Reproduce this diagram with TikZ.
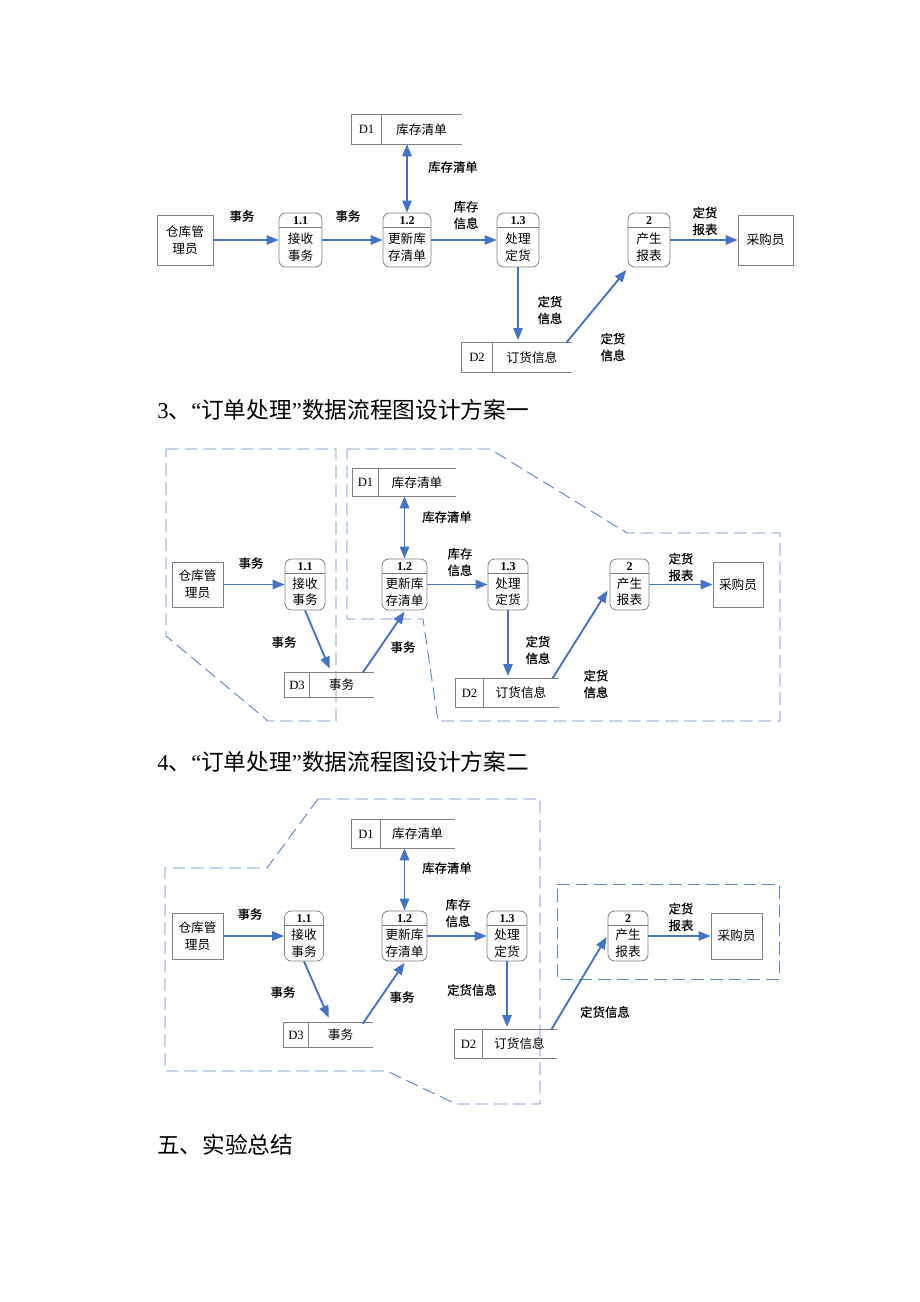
\documentclass[tikz,border=0pt]{standalone}
\usepackage{fontspec}
\setmainfont{Liberation Serif}
\newfontfamily\cjk{Noto Sans CJK SC}
\newfontfamily\cjkb{Noto Sans CJK SC}[FakeBold=0.4]
\usetikzlibrary{arrows.meta,calc}
\definecolor{ablue}{HTML}{4472C4}
\definecolor{dblue}{HTML}{5B86CF}
\definecolor{bgray}{HTML}{808080}
\tikzset{
  arr/.style={draw=ablue, line width=1.4pt, -{Triangle[length=9pt,width=7pt]}},
  darr/.style={draw=ablue, line width=1.4pt, {Triangle[length=9pt,width=7pt]}-{Triangle[length=9pt,width=7pt]}},
  bline/.style={draw=bgray, line width=0.6pt},
  pbox/.style={draw=bgray, line width=0.6pt, rounded corners=5pt, inner sep=0pt},
  ebox/.style={draw=bgray, line width=0.6pt, inner sep=0pt, align=center, font=\cjk\fontsize{9.5}{12.5}\selectfont},
  ntxt/.style={inner sep=0pt, align=center, font=\cjk\fontsize{9.5}{12.5}\selectfont},
  numtxt/.style={inner sep=0pt, font=\bfseries\fontsize{9}{10}\selectfont},
  idtxt/.style={inner sep=0pt, font=\fontsize{9.5}{10}\selectfont},
  lab/.style={inner sep=0pt, align=center, font=\cjkb\fontsize{9.3}{12.5}\selectfont},
  dline/.style={draw=dblue, line width=0.7pt, dash pattern=on 9.5pt off 4.5pt},
  head/.style={inner sep=0pt, anchor=west, font=\fontsize{17}{19}\selectfont}
}
\newcommand\proc[7]{%
  \node[pbox, minimum width={#4*0.75pt}, minimum height={#5*0.75pt}] (#1) at (#2,#3) {};
  \draw[bline] ([yshift=-11pt]#1.north west) -- ([yshift=-11pt]#1.north east);
  \node[numtxt] (#1n) at ([yshift=-5.7pt]#1.north) {#6};
  \node[ntxt] (#1t) at ($(#1.south)!0.5!([yshift=-11pt]#1.north)$) {#7};
}
\newcommand\store[8]{%
  \node[inner sep=0pt, minimum width={(#4-#2)*0.75pt}, minimum height={(#5-#3)*0.75pt}] (#1) at ({(#2+#4)/2},{(#3+#5)/2}) {};
  \draw[bline] (#1.north east) -- (#1.north west) -- (#1.south west) -- (#1.south east);
  \draw[bline] (#6,#3) -- (#6,#5);
  \node[idtxt] (#1i) at ({(#2+#6)/2},{(#3+#5)/2}) {#7};
  \node[ntxt] (#1t) at ({(#6+#4)/2},{(#3+#5)/2}) {#8};
}
\begin{document}
\begin{tikzpicture}[x=0.75pt,y=-0.75pt]
\useasboundingbox[fill=white] (0,0) rectangle (920,1302);

% ---------------- Diagram 1 ----------------
\node[ebox, minimum width={56*0.75pt}, minimum height={50*0.75pt}] (a1) at (185,240) {仓库管\\理员};
\proc{p11}{300.5}{240}{43}{54}{1.1}{接收\\事务}
\proc{p12}{407}{240}{48}{54}{1.2}{更新库\\存清单}
\proc{p13}{518}{240}{42}{54}{1.3}{处理\\定货}
\proc{p14}{649}{240}{42}{54}{2}{产生\\报表}
\node[ebox, minimum width={55*0.75pt}, minimum height={50*0.75pt}] (b1) at (765.5,240) {采购员};
\store{d11}{352}{115}{462}{144}{381}{D1}{库存清单}
\store{d12}{462}{343}{572}{372}{492}{D2}{订货信息}

\draw[arr] (a1.east) -- (p11.west);
\draw[arr] (p11.east) -- (p12.west);
\draw[arr] (p12.east) -- (p13.west);
\draw[arr] (p14.east) -- (b1.west);
\draw[darr] (p12.north |- d11.south) -- (p12.north);
\draw[arr, shorten >=2pt] (p13.south) -- (p13.south |- d12.north);
\draw[arr] ([xshift=-4.5pt]d12.north east) -- ([xshift=-1pt,yshift=-2pt]p14.south west);

\node[lab] (l11) at (242,216) {事务};
\node[lab] (l12) at (348,216) {事务};
\node[lab] (l13) at (466,215) {库存\\信息};
\node[lab] (l14) at (453,167) {库存清单};
\node[lab] (l15) at (705,221) {定货\\报表};
\node[lab] (l16) at (550,310) {定货\\信息};
\node[lab] (l17) at (613,347) {定货\\信息};

\node[head] (h1) at (157,410) {3{\cjk 、}“{\cjk 订单处理}”{\cjk 数据流程图设计方案一}};

% ---------------- Diagram 2 ----------------
\draw[dline] (166,449) -- (336,449) -- (336,721) -- (268,721) -- (166,636) -- cycle;
\draw[dline] (347,449) -- (490,449) -- (627,533) -- (780,533) -- (780,721) -- (438,721) -- (423,619) -- (347,619) -- cycle;

\node[ebox, minimum width={51*0.75pt}, minimum height={45*0.75pt}] (a2) at (197.5,584.5) {仓库管\\理员};
\proc{p21}{305}{584.5}{40}{51}{1.1}{接收\\事务}
\proc{p22}{404.5}{584.5}{45}{51}{1.2}{更新库\\存清单}
\proc{p23}{508}{584.5}{40}{51}{1.3}{处理\\定货}
\proc{p24}{629.5}{584.5}{39}{51}{2}{产生\\报表}
\node[ebox, minimum width={50*0.75pt}, minimum height={45*0.75pt}] (b2) at (738,584.5) {采购员};
\store{d21}{353}{469}{456}{496}{378}{D1}{库存清单}
\store{d23}{285}{673}{374}{697}{309}{D3}{事务}
\store{d22}{456}{679}{559}{707}{483}{D2}{订货信息}

\draw[arr] (a2.east) -- (p21.west);
\draw[arr] (p22.east) -- (p23.west);
\draw[arr] (p24.east) -- (b2.west);
\draw[darr] (p22.north |- d21.south) -- (p22.north);
\draw[arr] (p21.south) -- ($(d23.north west)+(45,-4)$);
\draw[arr] ($(d23.north west)+(78,0)$) -- ([yshift=-1pt]p22.south);
\draw[arr, shorten >=2pt] (p23.south) -- (p23.south |- d22.north);
\draw[arr] ($(d22.north east)+(-7,0)$) -- ($(p24.west)+(-2,6)$);

\node[lab] (l21) at (251,563) {事务};
\node[lab] (l22) at (284,642) {事务};
\node[lab] (l23) at (403,647) {事务};
\node[lab] (l24) at (447,517) {库存清单};
\node[lab] (l25) at (460,562) {库存\\信息};
\node[lab] (l26) at (538,650) {定货\\信息};
\node[lab] (l27) at (596,684) {定货\\信息};
\node[lab] (l28) at (681,567) {定货\\报表};

\node[head] (h2) at (157,762) {4{\cjk 、}“{\cjk 订单处理}”{\cjk 数据流程图设计方案二}};

% ---------------- Diagram 3 ----------------
\draw[dline] (318,799) -- (540,799) -- (540,1104) -- (456,1104) -- (387,1071) -- (165,1071) -- (165,868) -- (267,868) -- cycle;
\draw[dline] (557,884) -- (779,884) -- (779,979) -- (557,979) -- cycle;

\node[ebox, minimum width={51*0.75pt}, minimum height={46*0.75pt}] (a3) at (197.5,936) {仓库管\\理员};
\proc{p31}{304}{936}{39}{50}{1.1}{接收\\事务}
\proc{p32}{404.5}{936}{45}{50}{1.2}{更新库\\存清单}
\proc{p33}{507}{936}{40}{50}{1.3}{处理\\定货}
\proc{p34}{628}{936}{40}{50}{2}{产生\\报表}
\node[ebox, minimum width={51*0.75pt}, minimum height={46*0.75pt}] (b3) at (736.5,936) {采购员};
\store{d31}{352}{820}{455}{848}{380}{D1}{库存清单}
\store{d33}{284}{1023}{373}{1047}{308}{D3}{事务}
\store{d32}{455}{1030}{557}{1058}{482}{D2}{订货信息}

\draw[arr] (a3.east) -- (p31.west);
\draw[arr] (p32.east) -- (p33.west);
\draw[arr] (p34.east) -- (b3.west);
\draw[darr] (p32.north |- d31.south) -- (p32.north);
\draw[arr] (p31.south) -- ($(d33.north west)+(45,-5)$);
\draw[arr] ($(d33.north west)+(79,1)$) -- ([yshift=-1pt]p32.south);
\draw[arr, shorten >=2pt] (p33.south) -- (p33.south |- d32.north);
\draw[arr] ($(d32.north east)+(-6,0)$) -- ($(p34.west)+(-1,1)$);

\node[lab] (l31) at (250,914) {事务};
\node[lab] (l32) at (283,992) {事务};
\node[lab] (l33) at (402,997) {事务};
\node[lab] (l34) at (447,868) {库存清单};
\node[lab] (l35) at (458,913) {库存\\信息};
\node[lab] (l36) at (472,990) {定货信息};
\node[lab] (l37) at (605,1012) {定货信息};
\node[lab] (l38) at (681,917) {定货\\报表};

\node[head] (h3) at (157,1145) {\cjk 五、实验总结};
\end{tikzpicture}
\end{document}
